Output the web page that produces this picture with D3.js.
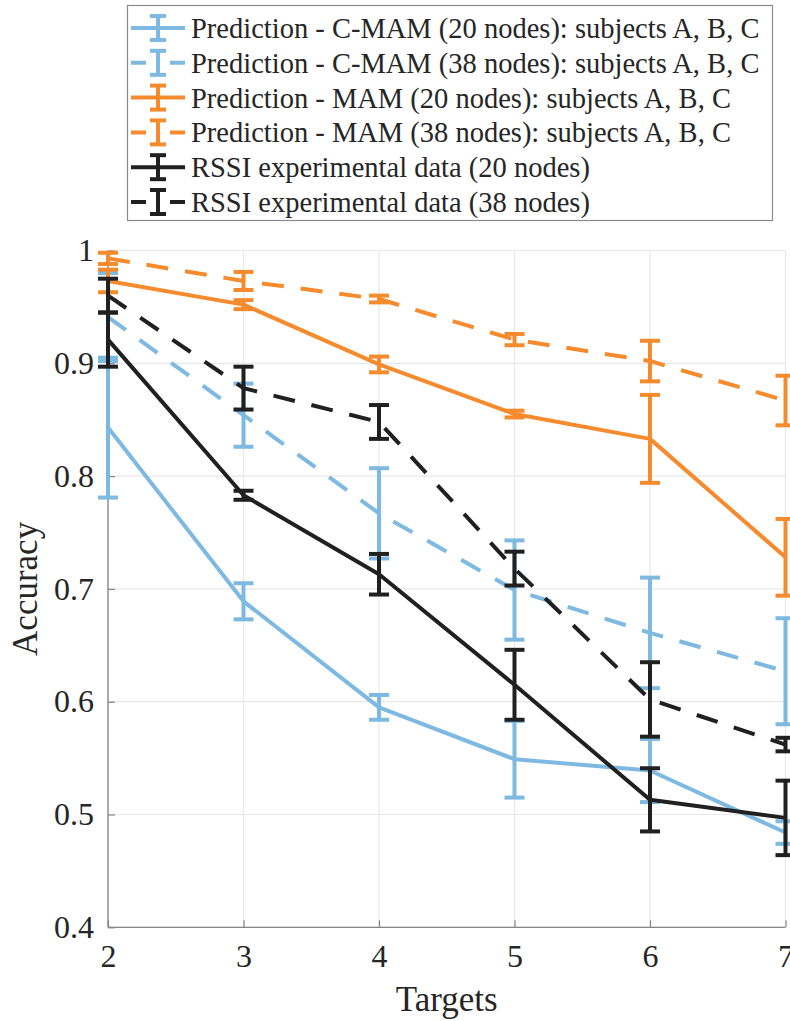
<!DOCTYPE html>
<html>
<head>
<meta charset="utf-8">
<script src="https://cdn.jsdelivr.net/npm/d3@7"></script>
<style>
  body { margin: 0; background: #fff; }
  svg { display: block; font-family: "Liberation Serif", "Times New Roman", serif; }
</style>
</head>
<body>
<div id="chart"></div>
<script>
// data
var targets = [2, 3, 4, 5, 6, 7];
var xTicks = [2, 3, 4, 5, 6, 7];
var yTicks = [0.4, 0.5, 0.6, 0.7, 0.8, 0.9, 1];

var cmam20 = [0.843, 0.689, 0.595, 0.549, 0.539, 0.484];
var cmam20Err = [0.062, 0.016, 0.011, 0.034, 0.028, 0.010];
var cmam38 = [0.941, 0.854, 0.767, 0.699, 0.661, 0.627];
var cmam38Err = [0.039, 0.028, 0.040, 0.044, 0.049, 0.047];
var mam20 = [0.973, 0.952, 0.899, 0.855, 0.833, 0.728];
var mam20Err = [0.010, 0.004, 0.007, 0.003, 0.039, 0.034];
var mam38 = [0.993, 0.973, 0.957, 0.921, 0.902, 0.867];
var mam38Err = [0.005, 0.008, 0.003, 0.005, 0.018, 0.022];
var rssi20 = [0.921, 0.783, 0.713, 0.615, 0.513, 0.497];
var rssi20Err = [0.024, 0.004, 0.018, 0.031, 0.028, 0.033];
var rssi38 = [0.960, 0.878, 0.848, 0.718, 0.602, 0.562];
var rssi38Err = [0.015, 0.019, 0.015, 0.015, 0.033, 0.006];

var seriesNames = [
  "Prediction - C-MAM (20 nodes): subjects A, B, C",
  "Prediction - C-MAM (38 nodes): subjects A, B, C",
  "Prediction - MAM (20 nodes): subjects A, B, C",
  "Prediction - MAM (38 nodes): subjects A, B, C",
  "RSSI experimental data (20 nodes)",
  "RSSI experimental data (38 nodes)"
];

var blue = "#7db9e0", orange = "#f68b2e", black = "#202020";

var series = [
  { name: seriesNames[0], vals: cmam20, err: cmam20Err, color: blue, dashed: false },
  { name: seriesNames[1], vals: cmam38, err: cmam38Err, color: blue, dashed: true },
  { name: seriesNames[2], vals: mam20, err: mam20Err, color: orange, dashed: false },
  { name: seriesNames[3], vals: mam38, err: mam38Err, color: orange, dashed: true },
  { name: seriesNames[4], vals: rssi20, err: rssi20Err, color: black, dashed: false },
  { name: seriesNames[5], vals: rssi38, err: rssi38Err, color: black, dashed: true }
];

var width = 790, height = 1021;
var lw = 4, capW = 10;

var svg = d3.select("#chart").append("svg")
    .attr("width", width)
    .attr("height", height);

var x = d3.scaleLinear().domain([2, 7]).range([108, 785.5]);
var y = d3.scaleLinear().domain([0.4, 1]).range([927.3, 250.5]);

// grid
svg.append("g").selectAll("line.vgrid")
    .data(xTicks).enter().append("line")
    .attr("x1", function(d) { return x(d); })
    .attr("x2", function(d) { return x(d); })
    .attr("y1", y(0.4)).attr("y2", y(1))
    .attr("stroke", "#e8e8e8").attr("stroke-width", 1.2);

svg.append("g").selectAll("line.hgrid")
    .data(yTicks).enter().append("line")
    .attr("x1", x(2)).attr("x2", x(7))
    .attr("y1", function(d) { return y(d); })
    .attr("y2", function(d) { return y(d); })
    .attr("stroke", "#e8e8e8").attr("stroke-width", 1.2);

// axes
var xAxis = d3.axisBottom(x).tickValues(xTicks).tickSize(-7).tickPadding(17)
    .tickFormat(d3.format("d"));
var yAxis = d3.axisLeft(y).tickValues(yTicks).tickSize(-7).tickPadding(14)
    .tickFormat(function(d) { return d === 1 ? "1" : d3.format(".1f")(d); });

var gx = svg.append("g").attr("transform", "translate(0," + y(0.4) + ")").call(xAxis);
var gy = svg.append("g").attr("transform", "translate(" + x(2) + ",0)").call(yAxis);

[gx, gy].forEach(function(g) {
  g.select(".domain").attr("stroke", "#858585").attr("stroke-width", 1.3);
  g.selectAll(".tick line").attr("stroke", "#858585").attr("stroke-width", 1.2);
  g.selectAll(".tick text")
    .attr("fill", "#262626")
    .style("font-family", "'Liberation Serif', 'Times New Roman', serif")
    .style("font-size", "32px");
});
gx.select(".domain").attr("d", "M" + x(2) + ",0H" + x(7));
gy.select(".domain").attr("d", "M0," + y(0.4) + "V" + y(1));

// axis labels
svg.append("text")
    .attr("x", (x(2) + x(7)) / 2)
    .attr("y", 1011)
    .attr("text-anchor", "middle")
    .attr("fill", "#262626")
    .style("font-size", "35px")
    .text("Targets");

svg.append("text")
    .attr("transform", "translate(37," + (y(0.4) + y(1)) / 2 + ") rotate(-90)")
    .attr("text-anchor", "middle")
    .attr("fill", "#262626")
    .style("font-size", "35px")
    .text("Accuracy");

// series
var line = d3.line()
    .x(function(d) { return x(d[0]); })
    .y(function(d) { return y(d[1]); });

series.forEach(function(s) {
  var pts = targets.map(function(t, i) { return [t, s.vals[i], s.err[i]]; });
  var g = svg.append("g");

  g.append("path")
      .datum(pts)
      .attr("d", line)
      .attr("fill", "none")
      .attr("stroke", s.color)
      .attr("stroke-width", lw)
      .attr("stroke-linejoin", "round")
      .attr("stroke-dasharray", s.dashed ? "22,17" : null);

  var bars = g.selectAll("g.bar").data(pts).enter().append("g");
  bars.append("line")
      .attr("x1", function(d) { return x(d[0]); })
      .attr("x2", function(d) { return x(d[0]); })
      .attr("y1", function(d) { return y(d[1] - d[2]); })
      .attr("y2", function(d) { return y(d[1] + d[2]); })
      .attr("stroke", s.color).attr("stroke-width", lw);
  bars.append("line")
      .attr("x1", function(d) { return x(d[0]) - capW; })
      .attr("x2", function(d) { return x(d[0]) + capW; })
      .attr("y1", function(d) { return y(d[1] - d[2]); })
      .attr("y2", function(d) { return y(d[1] - d[2]); })
      .attr("stroke", s.color).attr("stroke-width", lw);
  bars.append("line")
      .attr("x1", function(d) { return x(d[0]) - capW; })
      .attr("x2", function(d) { return x(d[0]) + capW; })
      .attr("y1", function(d) { return y(d[1] + d[2]); })
      .attr("y2", function(d) { return y(d[1] + d[2]); })
      .attr("stroke", s.color).attr("stroke-width", lw);
});

// legend
var legend = svg.append("g");
legend.append("rect")
    .attr("x", 127.5).attr("y", 5.5)
    .attr("width", 645).attr("height", 215)
    .attr("fill", "#fff")
    .attr("stroke", "#8a8a8a").attr("stroke-width", 1.2);

var rowY = d3.scaleLinear().domain([0, 5]).range([28, 202]);

var items = legend.selectAll("g.item").data(series).enter().append("g")
    .attr("transform", function(d, i) { return "translate(0," + rowY(i) + ")"; });

items.append("line")
    .attr("x1", 131).attr("x2", 185).attr("y1", 0).attr("y2", 0)
    .attr("stroke", function(d) { return d.color; })
    .attr("stroke-width", lw)
    .attr("stroke-dasharray", function(d) { return d.dashed ? "15,24" : null; });
items.append("line")
    .attr("x1", 158).attr("x2", 158).attr("y1", -12).attr("y2", 12)
    .attr("stroke", function(d) { return d.color; }).attr("stroke-width", lw);
items.append("line")
    .attr("x1", 150).attr("x2", 166).attr("y1", -12).attr("y2", -12)
    .attr("stroke", function(d) { return d.color; }).attr("stroke-width", lw);
items.append("line")
    .attr("x1", 150).attr("x2", 166).attr("y1", 12).attr("y2", 12)
    .attr("stroke", function(d) { return d.color; }).attr("stroke-width", lw);
items.append("text")
    .attr("x", 191).attr("y", 10)
    .attr("fill", "#262626")
    .style("font-size", "28.5px")
    .text(function(d) { return d.name; });
</script>
</body>
</html>
